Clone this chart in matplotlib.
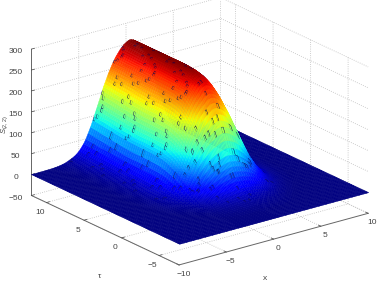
import numpy as np
import matplotlib
matplotlib.use('Agg')
from matplotlib import pyplot as plt

plt.rcParams['font.family'] = ['Liberation Sans', 'DejaVu Sans']
plt.rcParams['mathtext.fontset'] = 'custom'
plt.rcParams['mathtext.rm'] = 'Liberation Sans'
plt.rcParams['mathtext.it'] = 'Liberation Sans:italic'

# x grid, finer on the steep face
x_vals = np.concatenate([np.arange(-10, -3.5, 0.25), np.arange(-3.5, 0.5, 0.125), np.arange(0.5, 10.25, 0.25)])
right_side = [258, 256, 252, 246, 238, 228, 216, 202, 186, 168, 150, 130, 110, 92, 75, 60, 47,
              36, 27, 20, 15, 11, 8, 6, 4.5, 3.2, 2.3, 1.6, 1.1, 0.8, 0.5, 0.3, 0.2, 0.1, 0.1,
              0, 0, 0, 0]
# cross section at the back edge (tau = 12)
x_back = [0, 0, 0, 0, 0.1, 0.2, 0.3, 0.4, 0.6, 0.9, 1.3, 1.8, 2.6, 3.6, 5, 7, 9.5, 12, 15, 19,
          24, 31, 39, 49, 62, 75,
          90, 98, 106, 114, 122, 130, 138, 147, 155, 163, 170, 177, 184, 191, 197, 203, 209,
          215, 220, 225, 229, 233, 237, 241, 244, 247, 250, 252, 254, 256, 257, 258] + right_side
# cross section over the rest of the ridge
x_front = [0, 0, 0, 0, 0, 0.1, 0.2, 0.3, 0.4, 0.6, 0.9, 1.3, 1.8, 2.6, 3.6, 5, 7, 9.5, 12, 15,
           19, 24, 31, 39, 49, 62,
           78, 84, 90, 98, 106, 114, 122, 130, 138, 147, 155, 163, 170, 177, 184, 191, 197,
           203, 209, 215, 220, 225, 229, 233, 237, 241, 244, 248, 251, 254, 256, 257] + right_side

# tau = -7.75 ... 12, step 0.25
tau_vals = np.linspace(-7.75, 12, 80)
tau_profile = [0, 0, 0, 0, 0, 0.001, 0.002, 0.003, 0.005, 0.007, 0.01, 0.012, 0.015,
               0.02, 0.025, 0.03, 0.04, 0.05, 0.06, 0.08, 0.1, 0.12, 0.15, 0.18, 0.22,
               0.26, 0.3, 0.35, 0.41, 0.47, 0.53, 0.58, 0.63, 0.68, 0.73, 0.77, 0.81,
               0.84, 0.87, 0.9, 0.92, 0.94, 0.955, 0.965, 0.975, 0.98, 0.985, 0.99,
               0.992, 0.994, 0.996, 0.998, 1, 1, 1, 1, 1, 1, 1, 1, 1, 1, 1, 1, 1, 1, 1,
               1, 1, 1, 1, 1, 1, 1, 1, 1, 1, 1, 1, 1]
back_share = [0] * 56 + [0.01, 0.03, 0.05, 0.08, 0.11, 0.15, 0.19, 0.23, 0.27, 0.32, 0.37, 0.42,
                         0.47, 0.52, 0.57, 0.62, 0.67, 0.72, 0.77, 0.82, 0.86, 0.9, 0.95, 1]

x_ticks = [-10, -5, 0, 5, 10]
tau_ticks = [-5, 0, 5, 10]
z_ticks = [-50, 0, 50, 100, 150, 200, 250, 300]

tau_profile = np.array(tau_profile)
back_share = np.array(back_share)
X, T = np.meshgrid(x_vals, tau_vals)
Z = np.outer(tau_profile * back_share, x_back) + np.outer(tau_profile * (1 - back_share), x_front)

fig = plt.figure(figsize=(3.82, 2.82), dpi=100)
ax = fig.add_axes([5 / 382, 6 / 282, 1, 1], projection='3d')
ax.set_proj_type('ortho')
ax.view_init(elev=21, azim=-127.3)
ax.set_box_aspect((238.7, 244.6, 157.5), zoom=1.29)
ax.patch.set_alpha(0)

surf = ax.plot_surface(X, T, Z, cmap='jet', vmin=0, vmax=258, rstride=1, cstride=1,
                       linewidth=0.3, antialiased=True)
surf.set_clip_on(False)

# edges take the cell colour, some scattered cells get dark ones (the mesh speckle)
cell_z = (Z[:-1, :-1] + Z[1:, :-1] + Z[:-1, 1:] + Z[1:, 1:]) / 4
edge_colors = plt.get_cmap('jet')(cell_z / 258)
rows, cols = np.indices(cell_z.shape)
speckle = ((rows * 5 + cols * cols * 2 + cols) % 17 == 0) & (cell_z > 8)
edge_colors[speckle] = (0, 0, 0.3, 1)
surf.set_edgecolor(edge_colors.reshape(-1, 4))

ax.set_xlim(-10, 10, view_margin=0)
ax.set_ylim(-7.67, 12, view_margin=0)
ax.set_zlim(-50, 300, view_margin=0)
ax.set_xticks(x_ticks)
ax.set_yticks(tau_ticks)
ax.set_zticks(z_ticks)

for axis in (ax.xaxis, ax.yaxis, ax.zaxis):
    axis.set_pane_color((1, 1, 1, 0))
    axis.pane.set_edgecolor('none')
    axis.line.set_color('#666666')
    axis.line.set_linewidth(0.7)
    axis._axinfo['grid'].update(color='#bdbdbd', linestyle=':', linewidth=0.6)
    axis._axinfo['tick'].update(inward_factor=0.0, outward_factor=0.2, linewidth={True: 0.5, False: 0.5})
ax.tick_params(labelsize=6, colors='#444444', pad=-3)
ax.tick_params(axis='x', pad=-5)
ax.tick_params(axis='y', pad=-4.5)

fig.text(5 / 382, 1 - 125 / 282, r'$S_{(2,2)}$', rotation=90, fontsize=5.5, color='#444444', ha='center', va='center')
fig.text(100 / 382, 1 - 276 / 282, 'τ', fontsize=6, color='#444444', ha='center', va='center')
fig.text(265 / 382, 1 - 279 / 282, 'x', fontsize=6, color='#444444', ha='center', va='center')

fig.savefig('out.png', dpi=100)
